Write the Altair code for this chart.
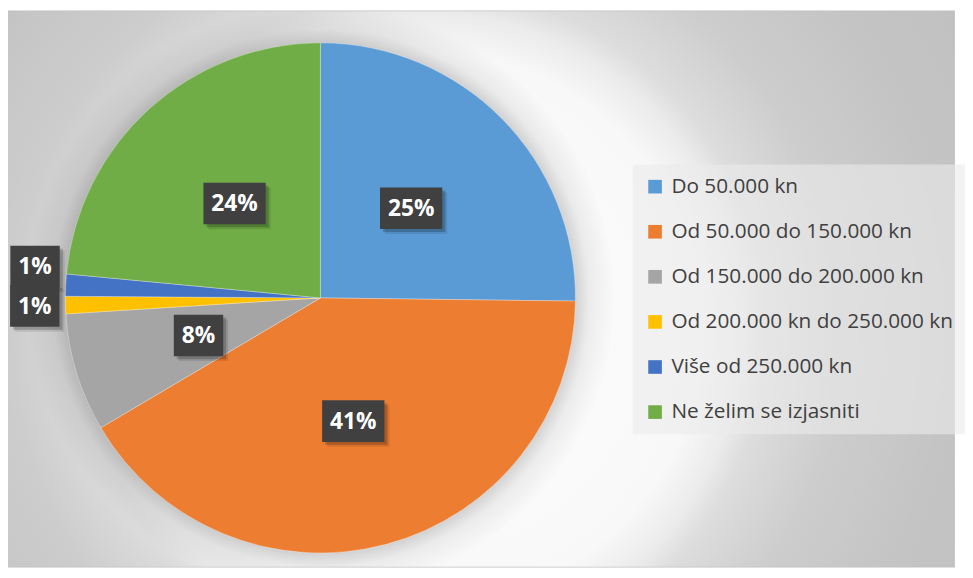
import math
import altair as alt
import pandas as pd

# ---- data ----
categories = [
    "Do 50.000 kn",
    "Od 50.000 do 150.000 kn",
    "Od 150.000 do 200.000 kn",
    "Od 200.000 kn do 250.000 kn",
    "Više od 250.000 kn",
    "Ne želim se izjasniti",
]
values = [25.2, 41.3, 7.5, 1.1, 1.4, 23.5]
colors = ["#5B9BD5", "#ED7D31", "#A5A5A5", "#FFC000", "#4472C4", "#70AD47"]

# ---- layout ----
W, H = 957, 562
CX, CY, R = 316, 290, 258
BOX_H = 42

total = sum(values)
rows = []
cum = 0.0
for i, (c, v) in enumerate(zip(categories, values)):
    share = v / total * 100
    label = f"{math.floor(share + 0.5)}%"
    mid = (cum + v / 2) / total * 2 * math.pi
    cum += v
    r = R / 2 if share >= 2 else R + 31
    rows.append(dict(idx=i, cat=c, value=v, label=label,
                     lx=CX + r * math.sin(mid), ly=CY - r * math.cos(mid),
                     outside=share < 2))
# resolve overlap of outside labels (stack upward)
outs = sorted([r for r in rows if r["outside"]], key=lambda d: -d["ly"])
for a, b in zip(outs, outs[1:]):
    if b["ly"] > a["ly"] - (BOX_H - 2):
        b["ly"] = a["ly"] - (BOX_H - 2)
for r in rows:
    bw = 24 + 13 * len(r["label"])
    r["bx0"] = r["lx"] - bw / 2
    r["bx1"] = r["lx"] + bw / 2
    r["by0"] = r["ly"] - BOX_H / 2
    r["by1"] = r["ly"] + BOX_H / 2
df = pd.DataFrame(rows)
one = pd.DataFrame({"k": [0]})

# ---- background gradient ----
GX, GY, GR = 422, 322, 620
bg = alt.Chart(one).mark_rect(
    clip=True,
    fill=alt.RadialGradient(
        gradient="radial", x1=0.5, y1=0.5, r1=0, x2=0.5, y2=0.5, r2=0.5,
        stops=[
            alt.GradientStop(offset=0, color="#ffffff"),
            alt.GradientStop(offset=0.45, color="#f8f8f8"),
            alt.GradientStop(offset=0.516, color="#ebebeb"),
            alt.GradientStop(offset=0.556, color="#dddddd"),
            alt.GradientStop(offset=0.677, color="#cdcdcd"),
            alt.GradientStop(offset=0.855, color="#c4c4c4"),
            alt.GradientStop(offset=1, color="#c1c1c1"),
        ],
    ),
).encode(
    x=alt.value(GX - GR), x2=alt.value(GX + GR),
    y=alt.value(GY - GR), y2=alt.value(GY + GR),
)

# ---- pie shadow halo ----
SR = R + 40
halo = alt.Chart(one).mark_rect(
    clip=True,
    fill=alt.RadialGradient(
        gradient="radial", x1=0.5, y1=0.5, r1=0, x2=0.5, y2=0.5, r2=0.5,
        stops=[
            alt.GradientStop(offset=0, color="rgba(0,0,0,0.16)"),
            alt.GradientStop(offset=R / SR, color="rgba(0,0,0,0.16)"),
            alt.GradientStop(offset=(R + 14) / SR, color="rgba(0,0,0,0.06)"),
            alt.GradientStop(offset=1, color="rgba(0,0,0,0)"),
        ],
    ),
).encode(
    x=alt.value(CX - SR), x2=alt.value(CX + SR),
    y=alt.value(CY - SR), y2=alt.value(CY + SR),
)

# ---- pie ----
pie = alt.Chart(df).mark_arc(
    radius=R, stroke="#ffffff", strokeWidth=0.6, strokeOpacity=0.5
).encode(
    theta=alt.Theta("value:Q", stack=True),
    order=alt.Order("idx:Q"),
    color=alt.Color(
        "cat:N",
        scale=alt.Scale(domain=categories, range=colors),
        legend=alt.Legend(
            title=None, orient="none", legendX=632, legendY=155,
            symbolType="square", symbolSize=190, symbolStrokeWidth=0,
            symbolOpacity=1, labelFont="Open Sans", labelFontSize=21,
            labelColor="#404040", labelOffset=6, labelLimit=0,
            rowPadding=23.6, padding=12, fillColor="rgba(235,235,235,0.6)",
        ),
    ),
    x=alt.value(CX), y=alt.value(CY),
)

# ---- data label boxes ----
def box(dx, dy, fill):
    return alt.Chart(df).transform_calculate(
        a=f"datum.bx0 + {dx}", b=f"datum.bx1 + {dx}",
        c=f"datum.by0 + {dy}", d=f"datum.by1 + {dy}",
    ).mark_rect(fill=fill).encode(
        x=alt.X("a:Q", scale=None), x2="b:Q",
        y=alt.Y("c:Q", scale=None), y2="d:Q",
    )

shadow2 = box(5, 5, "rgba(0,0,0,0.10)")
shadow1 = box(3, 3, "rgba(0,0,0,0.20)")
boxes = box(0, 0, "#404040")

labels = alt.Chart(df).mark_text(
    font="Open Sans", fontWeight="bold", fontSize=23, color="#ffffff",
    align="center", baseline="middle", dy=1,
).encode(
    x=alt.X("lx:Q", scale=None), y=alt.Y("ly:Q", scale=None), text="label:N"
)

chart = alt.layer(bg, halo, pie, shadow2, shadow1, boxes, labels).properties(
    width=W, height=H, padding=0
).configure_view(stroke="#bfbfbf", strokeWidth=1.5)

chart.save("out.html", embed_options={"renderer": "svg", "actions": False})
